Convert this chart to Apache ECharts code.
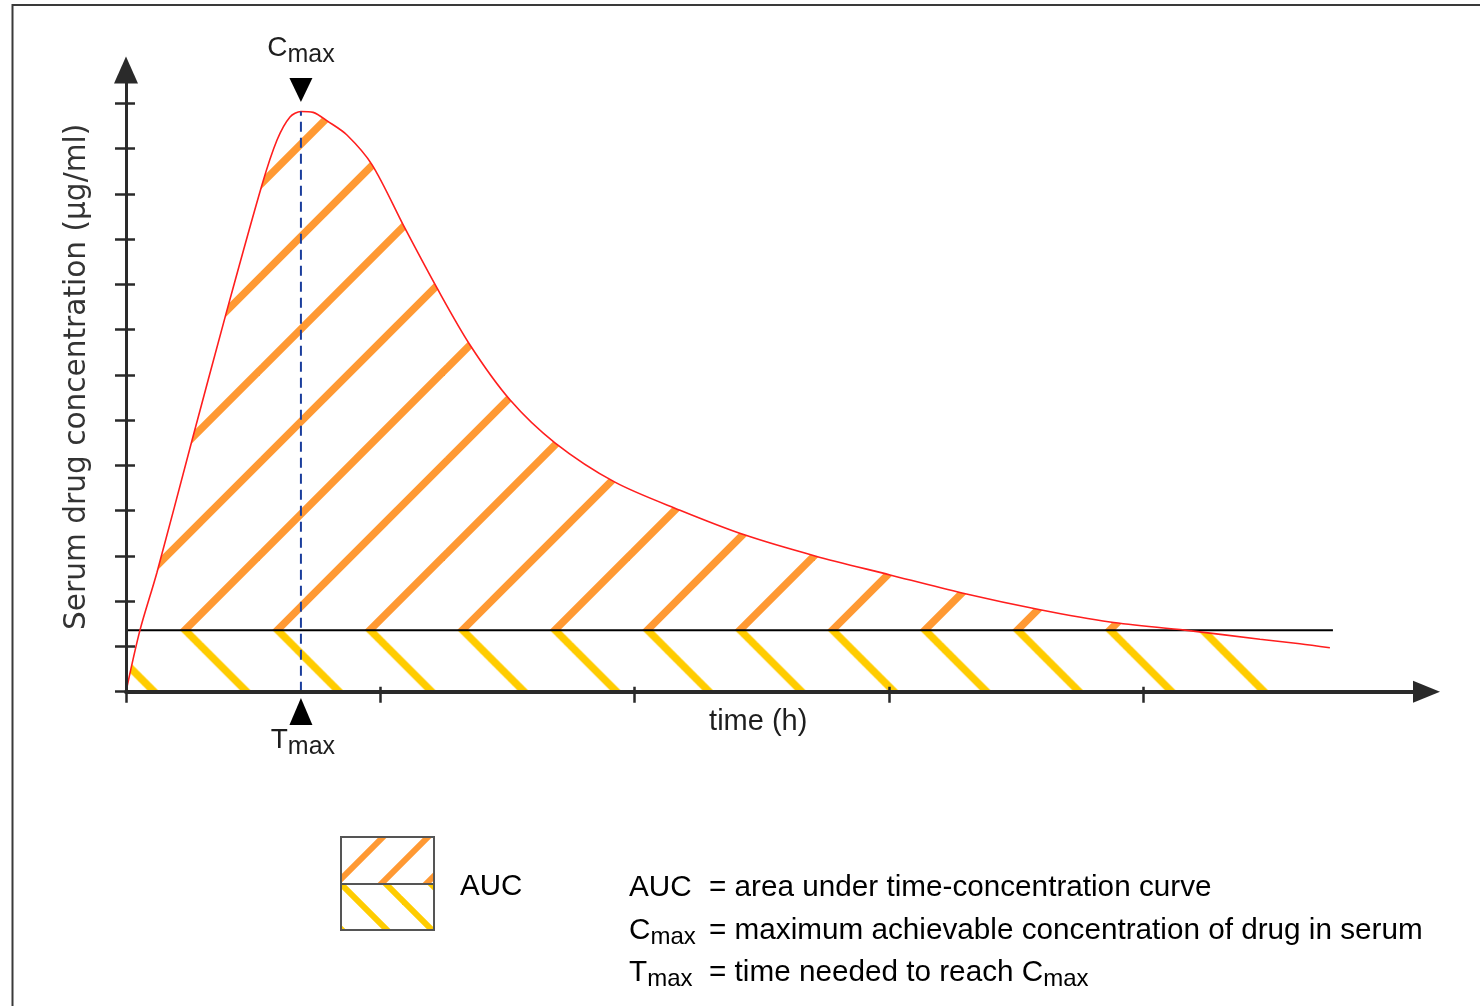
<!DOCTYPE html>
<html>
<head>
<meta charset="utf-8">
<script src="https://cdn.jsdelivr.net/npm/echarts@6/dist/echarts.min.js"></script>
<style>
html,body{margin:0;padding:0;background:#ffffff;}
#chart{width:1480px;height:1006px;}
</style>
</head>
<body>
<div id="chart"></div>
<script>
// ---------------- data ----------------
// time in tick units (one x tick = one unit), concentration in tick units
const timeH = [0, 0.055, 0.122, 0.26, 0.389, 0.535, 0.594, 0.645, 0.688, 0.736, 0.794, 0.869, 0.968, 1.097, 1.223, 1.353, 1.51, 1.687, 1.923, 2.179, 2.435, 2.71, 3.005, 3.288, 3.595, 3.87, 4.165, 4.46, 4.617, 4.735];
const conc  = [0, 1.36, 2.64, 5.56, 8.26, 11.2, 12.19, 12.7, 12.82, 12.8, 12.6, 12.3, 11.64, 10.24, 8.92, 7.66, 6.45, 5.5, 4.63, 4.01, 3.46, 3.0, 2.58, 2.18, 1.81, 1.54, 1.36, 1.16, 1.06, 0.97];
const threshold = 1.36;        // horizontal reference level
const thresholdEnd = 4.747;    // where the horizontal line stops
const hatchEnd = 4.617;        // last time covered by the AUC hatching
const tMax = 0.688;
const cMax = 12.82;
const xTicks = [0, 1, 2, 3, 4];
const yTicks = [0, 1, 2, 3, 4, 5, 6, 7, 8, 9, 10, 11, 12, 13];
const xMax = 5.115;
const yMax = 13.736;
const yAxisTitle = 'Serum drug concentration (µg/ml)';
const xAxisTitle = 'time (h)';
const legendLabel = 'AUC';
const defTerms = [['AUC', ''], ['C', 'max'], ['T', 'max']];
const defTexts = ['= area under time-concentration curve', '= maximum achievable concentration of drug in serum', '= time needed to reach '];
const defTail = [null, null, ['C', 'max']];

// ---------------- helpers ----------------
const FONT = '"Liberation Sans", Arial, Helvetica, sans-serif';
const TXT = '#1e1e1e';
const ORANGE = '#ff9933';
const YELLOW = '#ffcc00';

function hatchTile(period, lw, color, dir, bg) {
  const size = Math.round(period * 2);
  const cv = document.createElement('canvas');
  cv.width = size; cv.height = size;
  const g = cv.getContext('2d');
  if (bg) { g.fillStyle = bg; g.fillRect(0, 0, size, size); }
  g.strokeStyle = color; g.lineWidth = lw; g.lineCap = 'butt';
  for (let k = -4; k <= 8; k++) {
    const o = k * period;
    g.beginPath();
    if (dir === 'up') {       // x + y = o
      g.moveTo(o + 20, -20); g.lineTo(o - size - 20, size + 20);
    } else {                  // x - y = o
      g.moveTo(o - 20, -20); g.lineTo(o + size + 20, size + 20);
    }
    g.stroke();
  }
  return cv;
}
const orangePat = { image: hatchTile(92.5, 7.5, ORANGE, 'up'), repeat: 'repeat', x: 75, y: 0 };
const yellowPat = { image: hatchTile(92.5, 7.5, YELLOW, 'down', '#ffffff'), repeat: 'repeat', x: 17.5, y: 0 };
const orangePatSmall = { image: hatchTile(45, 6, ORANGE, 'up'), repeat: 'repeat', x: 5, y: 0 };
const yellowPatSmall = { image: hatchTile(45, 6, YELLOW, 'down'), repeat: 'repeat', x: 42, y: 0 };

function richStyle(mainSize, subSize, family) {
  return {
    m: { fontSize: mainSize, fontFamily: family || FONT, color: TXT, lineHeight: 38 },
    s: { fontSize: subSize, fontFamily: family || FONT, color: TXT, padding: [14, 0, 0, 0] }
  };
}
function richText(main, sub) {
  return '{m|' + main + '}' + (sub ? '{s|' + sub + '}' : '');
}

// ---------------- series data built from arrays ----------------
const hatchIdx = timeH.map((t, i) => i).filter(i => timeH[i] <= hatchEnd);
const areaData = hatchIdx.map(i => [timeH[i], conc[i]]);
const lowData = hatchIdx.map(i => [timeH[i], Math.min(conc[i], threshold)]);
const curveData = timeH.map((t, i) => [t, conc[i]]);
const SMOOTH = 0.3;

// ---------------- graphic (frame, legend, definitions) ----------------
const graphics = [
  { type: 'rect', silent: true, shape: { x: 12.5, y: 5, width: 1500, height: 1100 }, style: { fill: 'none', stroke: '#3a3a3a', lineWidth: 2 } },
  { type: 'rect', silent: true, shape: { x: 341, y: 837, width: 93, height: 47 }, style: { fill: orangePatSmall } },
  { type: 'rect', silent: true, shape: { x: 341, y: 884, width: 93, height: 46 }, style: { fill: yellowPatSmall } },
  { type: 'rect', silent: true, shape: { x: 341, y: 837, width: 93, height: 93 }, style: { fill: 'none', stroke: '#555', lineWidth: 2 } },
  { type: 'line', silent: true, shape: { x1: 341, y1: 884, x2: 434, y2: 884 }, style: { stroke: '#555', lineWidth: 2 } },
  { type: 'text', silent: true, x: 460, y: 868, style: { text: richText(legendLabel), rich: richStyle(29.5, 24), verticalAlign: 'top', align: 'left' } }
];
const defTops = [869, 911.5, 953.5];
defTerms.forEach((d, i) => {
  graphics.push({ type: 'text', silent: true, x: 629, y: defTops[i], style: { text: richText(d[0], d[1]), rich: richStyle(29.7, 24), verticalAlign: 'top', align: 'left' } });
  const tail = defTail[i] ? richText(defTail[i][0], defTail[i][1]) : '';
  graphics.push({ type: 'text', silent: true, x: 709, y: defTops[i], style: { text: richText(defTexts[i]) + tail, rich: richStyle(29.7, 24), verticalAlign: 'top', align: 'left' } });
});

// ---------------- chart ----------------
const axisColor = '#2a2a2a';
const chart = echarts.init(document.getElementById('chart'), null, { renderer: 'canvas' });
chart.setOption({
  animation: false,
  backgroundColor: '#ffffff',
  grid: { left: 126, top: 70, right: 53.5, bottom: 314.3, containLabel: false },
  xAxis: [
    {
      type: 'value', min: 0, max: xMax, interval: 1, position: 'bottom', z: 6,
      axisLine: { show: true, onZero: false, symbol: ['none', 'triangle'], symbolSize: [22, 27], lineStyle: { color: axisColor, width: 4 } },
      axisTick: { show: true, inside: false, length: 11, customValues: xTicks, lineStyle: { color: axisColor, width: 2.5 } },
      axisLabel: { show: false }, splitLine: { show: false },
      name: xAxisTitle, nameLocation: 'middle', nameGap: 15.5,
      nameTextStyle: { fontFamily: FONT, fontSize: 29, color: TXT, padding: [0, 36, 0, 0], verticalAlign: 'top' }
    },
    {
      type: 'value', min: 0, max: xMax, interval: 1, position: 'bottom', z: 6,
      axisLine: { show: false },
      axisTick: { show: true, inside: true, length: 5, customValues: xTicks, lineStyle: { color: axisColor, width: 2.5 } },
      axisLabel: { show: false }, splitLine: { show: false }
    }
  ],
  yAxis: [
    {
      type: 'value', min: 0, max: yMax, interval: 1, position: 'left', z: 6,
      axisLine: { show: true, onZero: false, symbol: ['none', 'triangle'], symbolSize: [24, 27], lineStyle: { color: axisColor, width: 3 } },
      axisTick: { show: true, inside: false, length: 11, customValues: yTicks, lineStyle: { color: axisColor, width: 2.5 } },
      axisLabel: { show: false }, splitLine: { show: false },
      name: yAxisTitle, nameLocation: 'middle', nameGap: 34, nameRotate: 90,
      nameTextStyle: { fontFamily: '"DejaVu Sans", Verdana, sans-serif', fontSize: 29.6, color: '#333', padding: [0, 0, 0, 8] }
    },
    {
      type: 'value', min: 0, max: yMax, interval: 1, position: 'left', z: 6,
      axisLine: { show: false },
      axisTick: { show: true, inside: true, length: 9, customValues: yTicks, lineStyle: { color: axisColor, width: 2.5 } },
      axisLabel: { show: false }, splitLine: { show: false }
    }
  ],
  graphic: graphics,
  series: [
    {
      name: 'AUC (above level)', type: 'line', data: areaData, smooth: SMOOTH, silent: true,
      showSymbol: false, lineStyle: { width: 0, opacity: 0 }, areaStyle: { color: orangePat, opacity: 1 }, z: 2
    },
    {
      name: 'AUC (below level)', type: 'line', data: lowData, smooth: false, silent: true,
      showSymbol: false, lineStyle: { width: 0, opacity: 0 }, areaStyle: { color: yellowPat, opacity: 1 }, z: 3
    },
    {
      name: 'level', type: 'line', data: [[0, threshold], [thresholdEnd, threshold]], silent: true,
      showSymbol: false, lineStyle: { color: '#000', width: 2 }, z: 4
    },
    {
      name: 'concentration', type: 'line', data: curveData, smooth: SMOOTH, silent: true,
      showSymbol: false, lineStyle: { color: '#ff1e1e', width: 1.6 }, z: 5
    },
    {
      name: 'Tmax', type: 'line', data: [[tMax, 0], [tMax, cMax]], silent: true,
      showSymbol: false, lineStyle: { color: '#1a3d9c', width: 2, type: [10, 6] }, z: 5,
      markPoint: {
        silent: true,
        data: [
          {
            name: 'Cmax', coord: [tMax, cMax], symbol: 'path://M0,0L10,0L5,10Z', symbolSize: [23, 24], symbolOffset: [0, -21.4],
            itemStyle: { color: '#000' },
            label: { show: true, position: 'top', distance: 10.7, formatter: richText('C', 'max'), rich: richStyle(28, 25) }
          },
          {
            name: 'Tmax', coord: [tMax, 0], symbol: 'triangle', symbolSize: [23, 27], symbolOffset: [0, 19.8],
            itemStyle: { color: '#000' },
            label: { show: true, position: 'bottom', distance: 0, offset: [2, -4], formatter: richText('T', 'max'), rich: richStyle(28, 25) }
          }
        ]
      }
    }
  ]
});
</script>
</body>
</html>
